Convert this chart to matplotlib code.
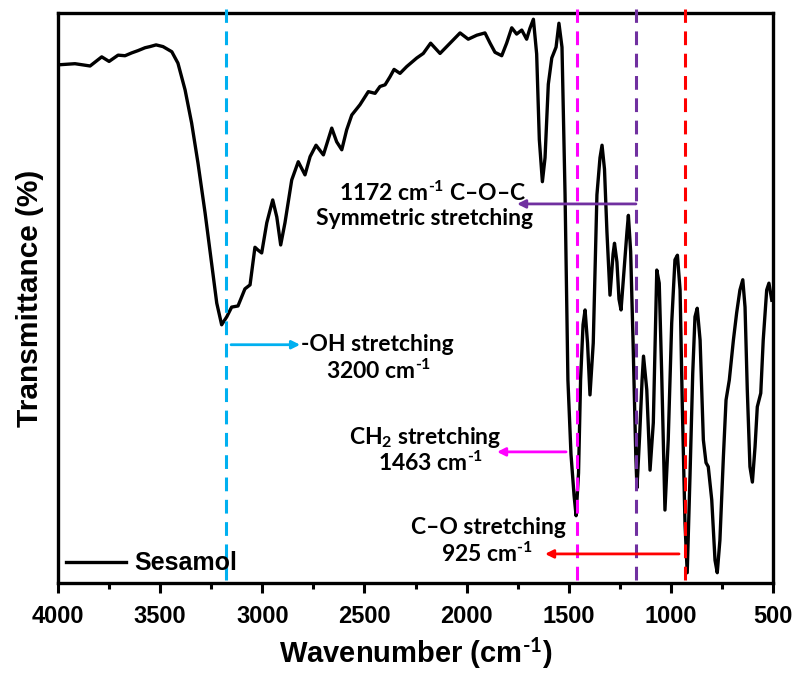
import matplotlib
matplotlib.use('Agg')
import matplotlib.pyplot as plt
import numpy as np

plt.rcParams['font.family'] = 'Liberation Sans'
plt.rcParams['font.weight'] = 'bold'
plt.rcParams['mathtext.fontset'] = 'custom'
plt.rcParams['mathtext.rm'] = 'Lato:bold'
plt.rcParams['mathtext.bf'] = 'Lato:bold'
plt.rcParams['mathtext.default'] = 'bf'

# spectrum (wavenumber, transmittance in arbitrary %)
wavenumber = [4000, 3917, 3843, 3786, 3750, 3706, 3672, 3639, 3608, 3574, 3550, 3520, 3486, 3443,
              3413, 3378, 3346, 3315, 3280, 3248, 3223, 3199, 3174, 3150, 3119, 3085, 3060, 3036,
              3021, 3003, 2978, 2949, 2929, 2910, 2889, 2856, 2824, 2791, 2766, 2737, 2701, 2660,
              2636, 2611, 2587, 2562, 2522, 2481, 2448, 2424, 2399, 2375, 2355, 2326, 2293, 2244,
              2212, 2176, 2130, 2081, 2032, 1992, 1950, 1910, 1885, 1861, 1828, 1804, 1779, 1755,
              1730, 1706, 1690, 1673, 1657, 1644, 1629, 1616, 1600, 1583, 1562, 1548, 1533, 1518,
              1504, 1489, 1474, 1464, 1452, 1442, 1430, 1420, 1408, 1396, 1380, 1371, 1362, 1347,
              1337, 1325, 1313, 1298, 1283, 1276, 1264, 1254, 1244, 1229, 1215, 1208, 1197, 1185,
              1172, 1166, 1153, 1141, 1134, 1118, 1102, 1086, 1069, 1057, 1045, 1029, 1013, 996,
              980, 968, 955, 944, 931, 920, 906, 893, 882, 871, 857, 841, 828, 817, 800, 784, 773,
              760, 743, 730, 714, 694, 678, 662, 648, 637, 626, 613, 601, 588, 577, 560, 548, 531,
              520, 506]
transmittance = [90.9, 91.1, 90.7, 92.3, 91.5, 92.6, 92.5, 93.0, 93.4, 93.9, 94.1, 94.4, 94.1, 93.2,
                 91.2, 86.5, 80.7, 73.7, 64.9, 56.1, 49.1, 45.3, 46.7, 48.4, 48.6, 51.6, 52.3, 58.9,
                 58.4, 57.9, 63.2, 67.2, 64.2, 59.3, 63.2, 70.7, 73.9, 71.6, 74.8, 76.8, 75.1, 79.8,
                 77.4, 76.0, 79.5, 82.1, 83.9, 86.2, 85.9, 87.1, 87.4, 88.8, 90.1, 89.4, 90.6, 92.1,
                 92.9, 94.7, 92.9, 94.7, 96.5, 95.4, 96.1, 96.5, 94.7, 93.1, 92.5, 94.7, 97.4, 96.3,
                 97.0, 95.4, 97.3, 98.9, 92.8, 77.8, 70.4, 74.6, 87.5, 92.1, 94.0, 98.2, 94.0, 68.1,
                 35.6, 22.6, 15.4, 11.8, 19.3, 35.6, 45.3, 47.9, 42.1, 33.0, 42.1, 55.1, 68.1, 74.6,
                 76.8, 72.6, 61.6, 50.5, 57.7, 59.6, 56.3, 49.8, 47.9, 55.1, 61.6, 64.5, 58.2, 42.1,
                 22.6, 16.7, 25.8, 35.6, 39.8, 33.9, 19.8, 28.1, 54.9, 52.6, 36.8, 12.8, 25.1, 45.6,
                 56.7, 57.5, 51.4, 30.9, 10.5, 1.8, 19.3, 36.8, 46.7, 48.2, 42.6, 25.1, 21.1, 20.4,
                 14.6, 4.0, 1.8, 7.5, 22.1, 32.1, 35.6, 42.6, 47.4, 51.4, 53.2, 48.4, 33.9, 20.4, 17.7,
                 23.9, 30.9, 33.3, 42.6, 51.4, 52.6, 49.6]

# marker lines
line_pos = [3178, 1460, 1171, 931]
line_colors = ['#00B0F0', '#FF00FF', '#7030A0', '#FF0000']

# arrows: start wn, end wn, level
arrow_start = [3153, 1513, 1171, 960]
arrow_end = [2815, 1851, 1753, 1616]
arrow_y = [41.8, 23.0, 66.5, 5.1]

sup = r'$^{\text{-}1}$'
labels = ['1172 cm' + sup + ' C–O–C', 'Symmetric stretching',
          '-OH stretching', '3200 cm' + sup,
          'CH$_{2}$ stretching', '1463 cm' + sup,
          'C–O stretching', '925 cm' + sup]
label_x = [2165, 2208, 2438, 2433, 2204, 2174, 1895, 1900]
label_y = [68.5, 64.0, 41.8, 37.3, 25.6, 21.0, 9.8, 5.1]

fig = plt.figure(figsize=(7.98, 6.79), dpi=100)
ax = fig.add_axes([0.0727, 0.1414, 0.896, 0.8395])

ax.plot(wavenumber, transmittance, color='black', lw=2.4, label='Sesamol', solid_joinstyle='round')

for x, c in zip(line_pos, line_colors):
    ax.vlines(x, 0.5, 100.7, colors=c, linestyles=(0, (4.5, 2.8)), lw=2.2, clip_on=False, zorder=3)

for x0, x1, y, c in zip(arrow_start, arrow_end, arrow_y, line_colors):
    ax.annotate('', xy=(x1, y), xytext=(x0, y),
                arrowprops=dict(arrowstyle='-|>', color=c, lw=2, mutation_scale=12,
                                shrinkA=0, shrinkB=0), zorder=4)

for t, x, y in zip(labels, label_x, label_y):
    ax.text(x, y, t, ha='center', va='center', fontsize=16.5, fontweight='bold',
            family='Lato', color='black', zorder=5)

ax.set_xlim(4000, 500)
ax.set_ylim(0, 100)
ax.set_xticks(np.arange(4000, 499, -500))
ax.set_xticks(np.arange(3750, 500, -500), minor=True)
ax.set_yticks([])
ax.tick_params(axis='x', which='major', direction='out', length=7, width=2.2, labelsize=17, pad=9)
ax.tick_params(axis='x', which='minor', direction='out', length=4, width=2.2)
for s in ax.spines.values():
    s.set_linewidth(2.4)

ax.set_xlabel('Wavenumber (cm' + r'$^{\text{-}1}$' + ')', fontsize=21, fontweight='bold', labelpad=5)
ax.set_ylabel('Transmittance (%)', fontsize=21.5, fontweight='bold', labelpad=10)

ax.legend(loc='lower left', frameon=False, fontsize=18, handlelength=2.4,
          handletextpad=0.35, borderaxespad=0.1, borderpad=0.2)

fig.savefig('out.png', dpi=100)
